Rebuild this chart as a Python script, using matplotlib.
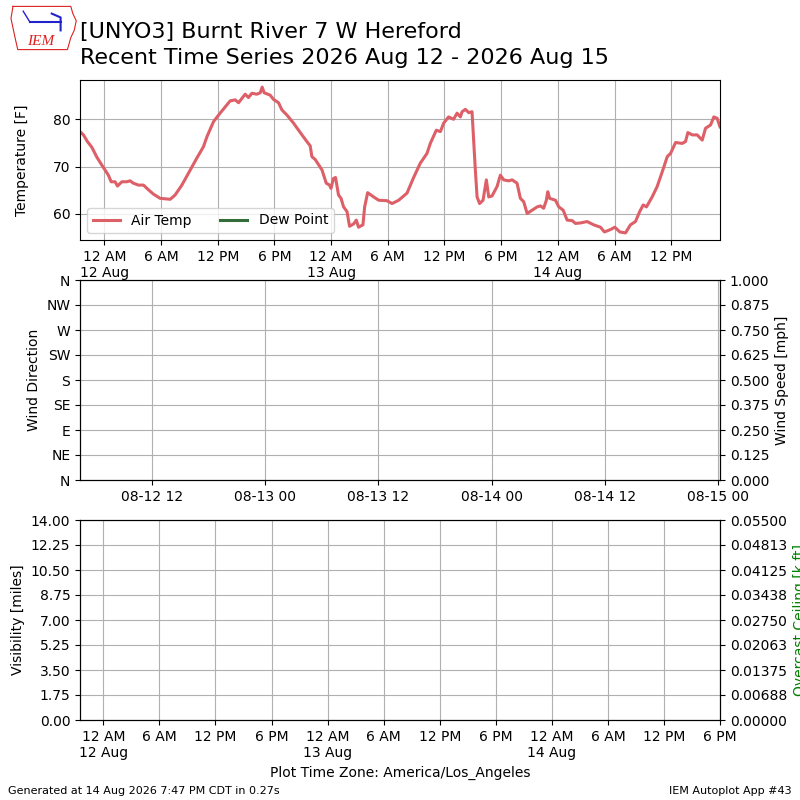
import datetime as dt
import matplotlib
matplotlib.use("Agg")
import matplotlib.pyplot as plt
import matplotlib.dates as mdates
from matplotlib.ticker import FixedLocator, FuncFormatter, FormatStrFormatter
import numpy as np

# ---------------- data (local time, America/Los_Angeles, PDT) ----------------
obs_times = [
    "2026-08-11 21:25", "2026-08-11 21:47", "2026-08-11 22:12", "2026-08-11 22:40",
    "2026-08-11 23:12", "2026-08-11 23:44", "2026-08-12 00:04", "2026-08-12 00:25",
    "2026-08-12 00:43", "2026-08-12 01:08", "2026-08-12 01:23", "2026-08-12 01:51",
    "2026-08-12 02:22", "2026-08-12 02:43", "2026-08-12 03:04", "2026-08-12 03:36",
    "2026-08-12 04:08", "2026-08-12 04:40", "2026-08-12 05:11", "2026-08-12 05:54",
    "2026-08-12 06:58", "2026-08-12 07:29", "2026-08-12 08:12", "2026-08-12 08:54",
    "2026-08-12 09:47", "2026-08-12 10:29", "2026-08-12 10:51", "2026-08-12 11:33",
    "2026-08-12 12:15", "2026-08-12 13:19", "2026-08-12 13:51", "2026-08-12 14:12",
    "2026-08-12 14:54", "2026-08-12 15:15", "2026-08-12 15:37", "2026-08-12 16:08",
    "2026-08-12 16:30", "2026-08-12 16:42", "2026-08-12 16:55", "2026-08-12 17:33",
    "2026-08-12 17:54", "2026-08-12 18:26", "2026-08-12 18:47", "2026-08-12 19:19",
    "2026-08-12 20:01", "2026-08-12 20:44", "2026-08-12 21:26", "2026-08-12 21:47",
    "2026-08-12 21:58", "2026-08-12 22:19", "2026-08-12 23:02", "2026-08-12 23:29",
    "2026-08-12 23:50", "2026-08-12 23:59", "2026-08-13 00:15", "2026-08-13 00:28",
    "2026-08-13 00:47", "2026-08-13 01:03", "2026-08-13 01:19", "2026-08-13 01:41",
    "2026-08-13 01:57", "2026-08-13 02:23", "2026-08-13 02:40", "2026-08-13 02:54",
    "2026-08-13 03:22", "2026-08-13 03:33", "2026-08-13 03:52", "2026-08-13 04:30",
    "2026-08-13 05:02", "2026-08-13 05:55", "2026-08-13 06:27", "2026-08-13 07:09",
    "2026-08-13 08:02", "2026-08-13 08:44", "2026-08-13 09:26", "2026-08-13 10:09",
    "2026-08-13 10:30", "2026-08-13 11:08", "2026-08-13 11:34", "2026-08-13 11:55",
    "2026-08-13 12:26", "2026-08-13 12:58", "2026-08-13 13:20", "2026-08-13 13:41",
    "2026-08-13 13:52", "2026-08-13 14:13", "2026-08-13 14:34", "2026-08-13 14:55",
    "2026-08-13 15:05", "2026-08-13 15:16", "2026-08-13 15:27", "2026-08-13 15:43",
    "2026-08-13 16:05", "2026-08-13 16:26", "2026-08-13 16:41", "2026-08-13 17:02",
    "2026-08-13 17:34", "2026-08-13 17:55", "2026-08-13 18:16", "2026-08-13 18:48",
    "2026-08-13 19:10", "2026-08-13 19:41", "2026-08-13 20:02", "2026-08-13 20:23",
    "2026-08-13 20:45", "2026-08-13 21:17", "2026-08-13 21:49", "2026-08-13 22:10",
    "2026-08-13 22:30", "2026-08-13 22:47", "2026-08-13 22:56", "2026-08-13 23:08",
    "2026-08-13 23:45", "2026-08-14 00:06", "2026-08-14 00:34", "2026-08-14 00:59",
    "2026-08-14 01:31", "2026-08-14 01:52", "2026-08-14 02:23", "2026-08-14 03:06",
    "2026-08-14 03:48", "2026-08-14 04:31", "2026-08-14 04:56", "2026-08-14 05:34",
    "2026-08-14 06:02", "2026-08-14 06:34", "2026-08-14 07:10", "2026-08-14 07:41",
    "2026-08-14 08:13", "2026-08-14 08:40", "2026-08-14 09:02", "2026-08-14 09:23",
    "2026-08-14 09:59", "2026-08-14 10:31", "2026-08-14 11:03", "2026-08-14 11:35",
    "2026-08-14 11:56", "2026-08-14 12:28", "2026-08-14 13:10", "2026-08-14 13:31",
    "2026-08-14 13:46", "2026-08-14 14:14", "2026-08-14 14:45", "2026-08-14 15:17",
    "2026-08-14 15:38", "2026-08-14 16:10", "2026-08-14 16:31", "2026-08-14 16:52",
    "2026-08-14 17:10",
]
air_temp = [
    77.4, 76.7, 75.3, 74.1, 72.0, 70.3, 69.3, 68.2,
    66.8, 66.8, 65.9, 66.8, 66.8, 67.0, 66.5, 66.1,
    66.1, 65.1, 64.2, 63.3, 63.1, 64.0, 66.1, 68.6,
    71.8, 74.2, 76.3, 79.5, 81.3, 83.9, 84.1, 83.5,
    85.3, 84.6, 85.5, 85.3, 85.6, 86.8, 85.6, 85.1,
    84.2, 83.5, 82.0, 80.9, 79.2, 77.2, 75.3, 74.4,
    72.1, 71.5, 69.3, 66.5, 66.1, 65.4, 67.5, 67.7,
    64.0, 63.3, 61.5, 60.5, 57.4, 57.9, 58.7, 57.2,
    57.7, 61.5, 64.5, 63.6, 62.9, 62.8, 62.2, 62.9,
    64.4, 67.7, 70.7, 72.8, 74.9, 77.7, 77.4, 79.2,
    80.5, 80.0, 81.3, 80.5, 81.6, 82.1, 81.4, 81.6,
    75.6, 69.3, 63.6, 62.2, 62.9, 67.2, 63.6, 63.8,
    65.8, 68.2, 67.2, 67.0, 67.2, 66.5, 63.3, 62.6,
    60.1, 60.8, 61.5, 61.7, 61.2, 62.9, 64.7, 63.3,
    62.9, 61.5, 60.8, 58.7, 58.6, 58.0, 58.1, 58.4,
    57.7, 57.2, 56.2, 56.7, 57.2, 56.2, 56.0, 57.7,
    58.4, 60.5, 61.9, 61.5, 63.6, 65.8, 68.9, 72.1,
    72.8, 75.1, 74.9, 75.3, 77.2, 76.7, 76.7, 75.6,
    78.1, 78.8, 80.5, 80.2, 78.4,
]
dew_point = []  # no dew point reported

dir_labels = ["N", "NE", "E", "SE", "S", "SW", "W", "NW", "N"]
title_line1 = "[UNYO3] Burnt River 7 W Hereford"
title_line2 = "Recent Time Series 2026 Aug 12 - 2026 Aug 15"
bottom_xlim = ["2026-08-11 21:30", "2026-08-14 18:00"]
utc_offset_hours = 7  # PDT -> UTC

fmt = "%Y-%m-%d %H:%M"
times = [dt.datetime.strptime(s, fmt) for s in obs_times]
tmin, tmax = times[0], times[-1]

# ---------------- figure ----------------
plt.rcParams["font.family"] = ["DejaVu Sans"]
fig = plt.figure(figsize=(8, 8), dpi=100)

RED = "#dd5f67"
DEWC = "#336e3a"


def local_fmt(x, pos=None):
    d = mdates.num2date(x).replace(tzinfo=None)
    h12 = d.hour % 12
    if h12 == 0:
        h12 = 12
    ampm = "AM" if d.hour < 12 else "PM"
    s = f"{h12} {ampm}"
    if d.hour == 0:
        s += f"\n{d.day} {d.strftime('%b')}"
    return s


# --- top: temperature ---
ax1 = fig.add_axes([0.1, 0.7, 0.8, 0.2])
ax1.plot(times, air_temp, color=RED, lw=2.2, label="Air Temp")
ax1.plot(times[:len(dew_point)], dew_point, color=DEWC, lw=2.2, label="Dew Point")
ax1.set_xlim(tmin, tmax)
ax1.set_ylim(min(air_temp) - 1.5, max(air_temp) + 1.5)
ax1.set_yticks([60, 70, 80])
ax1.xaxis.set_major_locator(mdates.HourLocator(byhour=[0, 6, 12, 18]))
ax1.xaxis.set_major_formatter(FuncFormatter(local_fmt))
ax1.grid(True)
ax1.set_ylabel("Temperature [F]", labelpad=17)
ax1.legend(loc="lower left", ncol=2)

# --- middle: wind ---
ax2 = fig.add_axes([0.1, 0.4, 0.8, 0.25])
off = dt.timedelta(hours=utc_offset_hours)
ax2.set_xlim(tmin + off, tmax + off)
ax2.set_ylim(0, 360)
ax2.yaxis.set_major_locator(FixedLocator(np.arange(0, 361, 45)))
ax2.set_yticklabels(dir_labels)
ax2.xaxis.set_major_locator(mdates.HourLocator(byhour=[0, 12]))
ax2.xaxis.set_major_formatter(mdates.DateFormatter("%m-%d %H"))
ax2.grid(True)
ax2.set_ylabel("Wind Direction")
ax2b = ax2.twinx()
ax2b.set_ylim(0, 1)
ax2b.set_yticks(np.linspace(0, 1, 9))
ax2b.yaxis.set_major_formatter(FormatStrFormatter("%.3f"))
ax2b.set_ylabel("Wind Speed [mph]")

# --- bottom: visibility / ceiling ---
ax3 = fig.add_axes([0.1, 0.1, 0.8, 0.25])
bx = [dt.datetime.strptime(s, fmt) for s in bottom_xlim]
ax3.set_xlim(bx[0], bx[1])
ax3.set_ylim(0, 14)
ax3.set_yticks(np.linspace(0, 14, 9))
ax3.yaxis.set_major_formatter(FormatStrFormatter("%.2f"))
ax3.xaxis.set_major_locator(mdates.HourLocator(byhour=[0, 6, 12, 18]))
ax3.xaxis.set_major_formatter(FuncFormatter(local_fmt))
ax3.grid(True)
ax3.set_ylabel("Visibility [miles]")
ax3.set_xlabel("Plot Time Zone: America/Los_Angeles")
ax3b = ax3.twinx()
ax3b.set_ylim(0, 0.055)
ax3b.set_yticks(np.linspace(0, 0.055, 9))
ax3b.yaxis.set_major_formatter(FormatStrFormatter("%.5f"))
ax3b.set_ylabel("Overcast Ceiling [k ft]", color="g")

# --- titles / footer ---
fig.text(0.1, 1 - 38.3 / 800, title_line1, fontsize=16, va="baseline", ha="left")
fig.text(0.1, 1 - 64.0 / 800, title_line2, fontsize=16, va="baseline", ha="left")
fig.text(0.01, 0.005, "Generated at 14 Aug 2026 7:47 PM CDT in 0.27s", fontsize=8, va="bottom")
fig.text(0.99, 0.005, "IEM Autoplot App #43", fontsize=8, va="bottom", ha="right")

# --- simple logo ---
lax = fig.add_axes([0.012, 0.935, 0.085, 0.06])
lax.set_xlim(0, 1)
lax.set_ylim(0, 1)
lax.axis("off")
ia_x = [0.05, 0.9, 0.93, 0.98, 0.95, 0.9, 0.85, 0.12, 0.08, 0.02, 0.05]
ia_y = [0.95, 0.95, 0.8, 0.65, 0.45, 0.3, 0.05, 0.05, 0.3, 0.7, 0.95]
lax.plot(ia_x, ia_y, color="#d22", lw=0.8)
lax.plot([0.3, 0.75], [0.62, 0.62], color="#22c", lw=1.5)
lax.plot([0.2, 0.3], [0.85, 0.62], color="#22c", lw=1)
lax.plot([0.62, 0.75, 0.75], [0.8, 0.72, 0.45], color="#22c", lw=1.5)
lax.text(0.45, 0.08, "IEM", color="#d22", fontsize=11, style="italic",
         family=["Liberation Serif", "DejaVu Serif"], ha="center", va="bottom")

fig.savefig("out.png", dpi=100)
